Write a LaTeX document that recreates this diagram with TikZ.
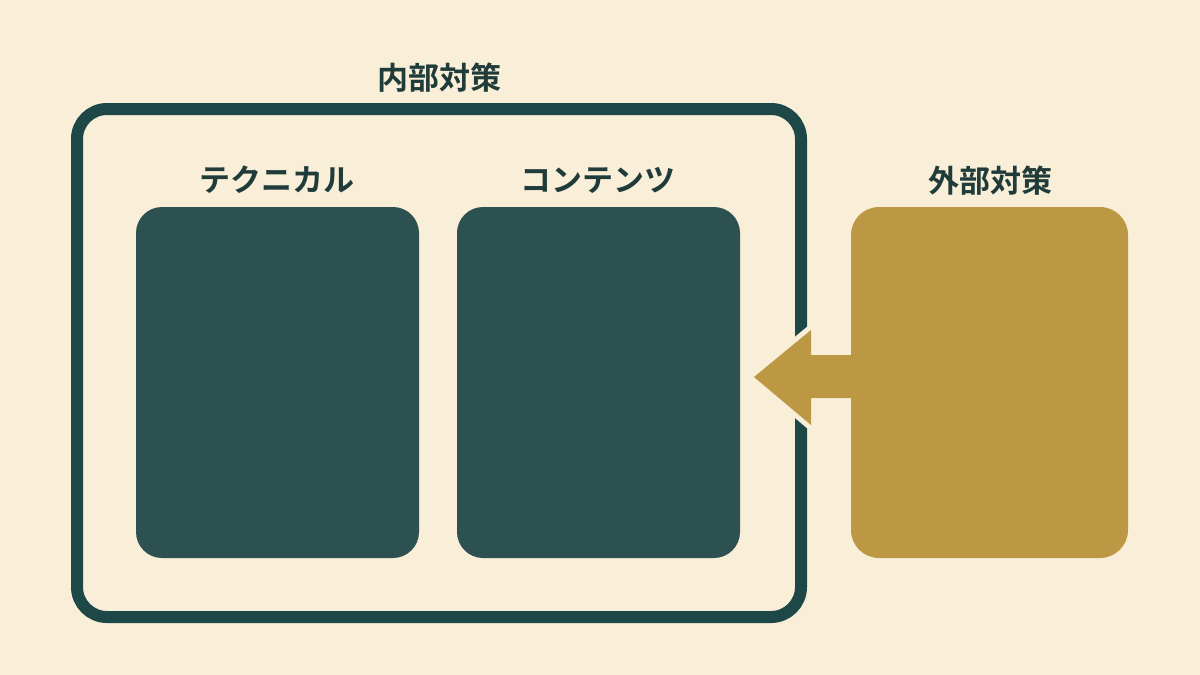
\documentclass[tikz,border=0pt]{standalone}
\usepackage{fontspec}
\newfontfamily\cjk{Noto Sans CJK JP}[BoldFont={Noto Sans CJK JP Bold}]
\definecolor{bgcream}{RGB}{249,238,215}
\definecolor{frameteal}{RGB}{30,72,72}
\definecolor{boxteal}{RGB}{45,80,80}
\definecolor{gold}{RGB}{189,152,68}
\definecolor{labelc}{RGB}{32,60,58}
\begin{document}
\begin{tikzpicture}[x=1pt,y=-1pt,
  panel/.style={fill=boxteal, rounded corners=26pt},
  goldpanel/.style={fill=gold, rounded corners=28pt},
  framebox/.style={draw=frameteal, line width=12pt, rounded corners=30pt},
  lab/.style={text=labelc, font=\cjk\bfseries\fontsize{31}{36}\selectfont, inner sep=0pt, anchor=center},
  arrowshape/.style={fill=gold, preaction={draw=bgcream, line width=10pt, line join=miter}}
]
\fill[bgcream] (0,0) rectangle (1200,675);
\useasboundingbox (0,0) rectangle (1200,675);

\draw[framebox] (77,109) rectangle (801,617);
\coordinate (frameright) at (801,377);

\fill[panel] (136,207) rectangle (419,558);
\node (tech) at (277.5,382) {};
\fill[panel] (457,207) rectangle (740,558);
\node (cont) at (598.5,382) {};

\coordinate (tip) at (754,377);
\path[arrowshape] (tip) -- (811,330) -- (811,355) -- (860,355) -- (860,398) -- (811,398) -- (811,425) -- cycle;

\fill[goldpanel] (851,207) rectangle (1128,558);
\node (ext) at (989.5,382) {};

\node[lab] (lin) at (439,78) {内部対策};
\node[lab] (ltech) at (277,180) {テクニカル};
\node[lab] (lcont) at (598,180) {コンテンツ};
\node[lab] (lext) at (990,181) {外部対策};
\end{tikzpicture}
\end{document}
